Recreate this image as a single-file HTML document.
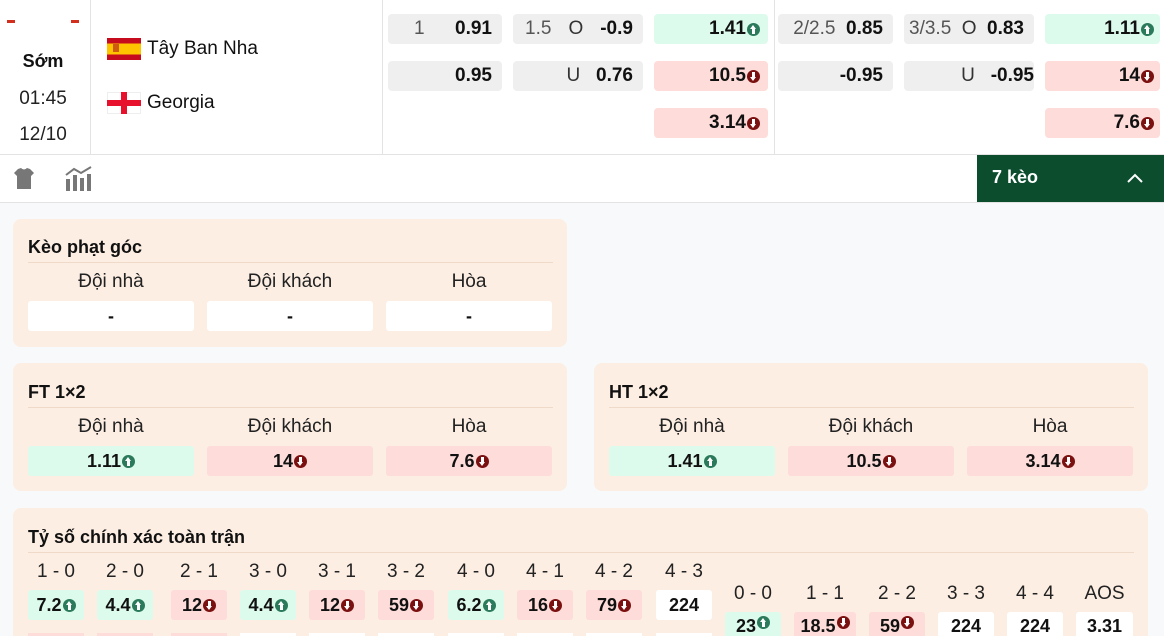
<!DOCTYPE html>
<html style="width:1164px;height:636px;overflow:hidden"><head><meta charset="utf-8">
<style>
*{margin:0;padding:0;box-sizing:border-box}
body{width:1164px;height:636px;overflow:hidden;background:#f8f9fa;font-family:"Liberation Sans",sans-serif;color:#111;position:relative}
.a{position:absolute}
.hdr{left:0;top:0;width:1164px;height:155px;background:#fff;border-bottom:1px solid #e3e3e3}
.tb{left:0;top:155px;width:1164px;height:48px;background:#fff;border-bottom:1px solid #e3e3e3}
.vl{top:0;width:1px;height:154px;background:#e3e3e3}
.c{height:30px;border-radius:4px;background:#efefef;font-size:19px;display:flex;align-items:center;justify-content:flex-end;padding-right:10px;gap:0}
.c b{font-weight:bold}
.g{background:#dcfbec}.r{background:#fddcd9}.w{background:#fff}
.ic{display:inline-block;width:13px;height:13px;border-radius:50%;margin-left:1px;position:relative;vertical-align:middle}
.up{background:#2b7a5c}.dn{background:#7a1010}
.ic:after{content:"";position:absolute;left:5px;top:3px;width:3px;height:6px;background:#fff}
.up:before{content:"";position:absolute;left:3px;top:2px;border-left:3.5px solid transparent;border-right:3.5px solid transparent;border-bottom:4px solid #fff}
.dn:before{content:"";position:absolute;left:3px;top:7px;border-left:3.5px solid transparent;border-right:3.5px solid transparent;border-top:4px solid #fff}
.dn:after{top:2px}
.up:after{top:5px}
.p{background:#fdeee3;border-radius:8px}
.t{font-size:18px;font-weight:bold}
.ln{height:1px;background:#efd9c8}
.lb{font-size:19px;color:#222;text-align:center}
.bx{height:30px;border-radius:3px;font-size:18px;font-weight:bold;display:flex;align-items:center;justify-content:center}
.gr{color:#555;font-weight:normal}
</style></head><body>
<div class="a hdr"></div>
<div class="a vl" style="left:90px"></div>
<div class="a vl" style="left:382px"></div>
<div class="a vl" style="left:774px"></div>
<div class="a" style="left:7px;top:20px;width:8px;height:3px;background:#d32f1e"></div>
<div class="a" style="left:71px;top:20px;width:8px;height:3px;background:#d32f1e"></div>
<div class="a" style="left:0;top:51px;width:86px;text-align:center;font-size:18px;font-weight:bold">Sớm</div>
<div class="a" style="left:0;top:88px;width:86px;text-align:center;font-size:19px;color:#222">01:45</div>
<div class="a" style="left:0;top:124px;width:86px;text-align:center;font-size:19px;color:#222">12/10</div>
<div class="a" style="left:107px;top:38px;width:34px;height:22px;background:linear-gradient(#c60b1e 0 25%,#ffc400 25% 75%,#c60b1e 75%)"></div>
<div class="a" style="left:113px;top:44px;width:6px;height:8px;background:#ad1519;opacity:.6"></div>
<div class="a" style="left:147px;top:38px;font-size:19px">Tây Ban Nha</div>
<div class="a" style="left:107px;top:92px;width:34px;height:22px;background:#fff;border:1px solid #eee"></div>
<div class="a" style="left:121px;top:92px;width:6px;height:22px;background:#e8112d"></div>
<div class="a" style="left:107px;top:100px;width:34px;height:6px;background:#e8112d"></div>
<div class="a" style="left:147px;top:92px;font-size:19px">Georgia</div>

<div class="a c" style="left:388px;top:14px;width:114px;justify-content:space-between;padding-left:26px"><span class="gr">1</span><b>0.91</b></div>
<div class="a c" style="left:513px;top:14px;width:130px;justify-content:space-between;padding-left:12px"><span class="gr">1.5</span><span class="gr" style="color:#333">O</span><b>-0.9</b></div>
<div class="a c g" style="left:654px;top:14px;width:114px;padding-right:8px"><b>1.41</b><i class="ic up"></i></div>
<div class="a c" style="left:778px;top:14px;width:115px;padding-left:8px"><span class="gr">2/2.5</span>&nbsp;<b>&nbsp;0.85</b></div>
<div class="a c" style="left:904px;top:14px;width:130px;justify-content:space-between;padding-left:5px"><span class="gr">3/3.5</span><span class="gr" style="color:#333">O</span><b>0.83</b></div>
<div class="a c g" style="left:1045px;top:14px;width:115px;padding-right:6px"><b>1.11</b><i class="ic up"></i></div>

<div class="a c" style="left:388px;top:61px;width:114px"><b>0.95</b></div>
<div class="a c" style="left:513px;top:61px;width:130px"><span style="color:#333">U</span>&nbsp;&nbsp;&nbsp;<b>0.76</b></div>
<div class="a c r" style="left:654px;top:61px;width:114px;padding-right:8px"><b>10.5</b><i class="ic dn"></i></div>
<div class="a c" style="left:778px;top:61px;width:115px"><b>-0.95</b></div>
<div class="a c" style="left:904px;top:61px;width:130px;padding-right:0"><span style="color:#333">U</span>&nbsp;&nbsp;&nbsp;<b>-0.95</b></div>
<div class="a c r" style="left:1045px;top:61px;width:115px;padding-right:6px"><b>14</b><i class="ic dn"></i></div>
<div class="a c r" style="left:654px;top:108px;width:114px;padding-right:8px"><b>3.14</b><i class="ic dn"></i></div>
<div class="a c r" style="left:1045px;top:108px;width:115px;padding-right:6px"><b>7.6</b><i class="ic dn"></i></div>

<div class="a tb"></div>
<svg class="a" style="left:12px;top:167px" width="24" height="24" viewBox="0 0 24 24"><path d="M6 2 L9 1 Q12 4 15 1 L18 2 L22 6 L19 9 L19 22 L5 22 L5 9 L2 6 Z" fill="#777"/></svg>
<svg class="a" style="left:64px;top:166px" width="30" height="26" viewBox="0 0 30 26"><g fill="#777"><rect x="2" y="13" width="4" height="12"/><rect x="9" y="9" width="4" height="16"/><rect x="16" y="12" width="4" height="13"/><rect x="23" y="8" width="4" height="17"/></g><path d="M2 9 L10 3 L17 7 L27 1" stroke="#777" stroke-width="2" fill="none"/></svg>
<div class="a" style="left:977px;top:155px;width:187px;height:47px;background:#0b4d2d"></div>
<div class="a" style="left:992px;top:167px;font-size:18px;font-weight:bold;color:#fff">7 kèo</div>
<svg class="a" style="left:1126px;top:172px" width="18" height="12" viewBox="0 0 18 12"><path d="M2 10 L9 3 L16 10" stroke="#fff" stroke-width="2" fill="none"/></svg>

<div class="a p" style="left:13px;top:219px;width:554px;height:128px"></div>
<div class="a t" style="left:28px;top:237px">Kèo phạt góc</div>
<div class="a ln" style="left:28px;top:262px;width:525px"></div>
<div class="a lb" style="left:28px;top:271px;width:166px">Đội nhà</div>
<div class="a lb" style="left:207px;top:271px;width:166px">Đội khách</div>
<div class="a lb" style="left:386px;top:271px;width:166px">Hòa</div>
<div class="a bx w" style="left:28px;top:301px;width:166px">-</div>
<div class="a bx w" style="left:207px;top:301px;width:166px">-</div>
<div class="a bx w" style="left:386px;top:301px;width:166px">-</div>

<div class="a p" style="left:13px;top:363px;width:554px;height:128px"></div>
<div class="a t" style="left:28px;top:382px">FT 1×2</div>
<div class="a ln" style="left:28px;top:407px;width:525px"></div>
<div class="a lb" style="left:28px;top:416px;width:166px">Đội nhà</div>
<div class="a lb" style="left:207px;top:416px;width:166px">Đội khách</div>
<div class="a lb" style="left:386px;top:416px;width:166px">Hòa</div>
<div class="a bx g" style="left:28px;top:446px;width:166px">1.11<i class="ic up"></i></div>
<div class="a bx r" style="left:207px;top:446px;width:166px">14<i class="ic dn"></i></div>
<div class="a bx r" style="left:386px;top:446px;width:166px">7.6<i class="ic dn"></i></div>

<div class="a p" style="left:594px;top:363px;width:554px;height:128px"></div>
<div class="a t" style="left:609px;top:382px">HT 1×2</div>
<div class="a ln" style="left:609px;top:407px;width:525px"></div>
<div class="a lb" style="left:609px;top:416px;width:166px">Đội nhà</div>
<div class="a lb" style="left:788px;top:416px;width:166px">Đội khách</div>
<div class="a lb" style="left:967px;top:416px;width:166px">Hòa</div>
<div class="a bx g" style="left:609px;top:446px;width:166px">1.41<i class="ic up"></i></div>
<div class="a bx r" style="left:788px;top:446px;width:166px">10.5<i class="ic dn"></i></div>
<div class="a bx r" style="left:967px;top:446px;width:166px">3.14<i class="ic dn"></i></div>

<div class="a p" style="left:13px;top:508px;width:1135px;height:128px;border-radius:8px 8px 0 0"></div>
<div class="a t" style="left:28px;top:527px">Tỷ số chính xác toàn trận</div>
<div class="a ln" style="left:28px;top:552px;width:1106px"></div>

<div class="a lb" style="left:28px;top:561px;width:56px">1 - 0</div><div class="a bx g" style="left:28px;top:590px;width:56px">7.2<i class="ic up"></i></div>
<div class="a lb" style="left:97px;top:561px;width:56px">2 - 0</div><div class="a bx g" style="left:97px;top:590px;width:56px">4.4<i class="ic up"></i></div>
<div class="a lb" style="left:171px;top:561px;width:56px">2 - 1</div><div class="a bx r" style="left:171px;top:590px;width:56px">12<i class="ic dn"></i></div>
<div class="a lb" style="left:240px;top:561px;width:56px">3 - 0</div><div class="a bx g" style="left:240px;top:590px;width:56px">4.4<i class="ic up"></i></div>
<div class="a lb" style="left:309px;top:561px;width:56px">3 - 1</div><div class="a bx r" style="left:309px;top:590px;width:56px">12<i class="ic dn"></i></div>
<div class="a lb" style="left:378px;top:561px;width:56px">3 - 2</div><div class="a bx r" style="left:378px;top:590px;width:56px">59<i class="ic dn"></i></div>
<div class="a lb" style="left:448px;top:561px;width:56px">4 - 0</div><div class="a bx g" style="left:448px;top:590px;width:56px">6.2<i class="ic up"></i></div>
<div class="a lb" style="left:517px;top:561px;width:56px">4 - 1</div><div class="a bx r" style="left:517px;top:590px;width:56px">16<i class="ic dn"></i></div>
<div class="a lb" style="left:586px;top:561px;width:56px">4 - 2</div><div class="a bx r" style="left:586px;top:590px;width:56px">79<i class="ic dn"></i></div>
<div class="a lb" style="left:656px;top:561px;width:56px">4 - 3</div><div class="a bx w" style="left:656px;top:590px;width:56px">224</div>
<div class="a r" style="left:28px;top:633px;width:56px;height:3px"></div>
<div class="a r" style="left:97px;top:633px;width:56px;height:3px"></div>
<div class="a r" style="left:171px;top:633px;width:56px;height:3px"></div>
<div class="a w" style="left:240px;top:633px;width:56px;height:3px"></div>
<div class="a w" style="left:309px;top:633px;width:56px;height:3px"></div>
<div class="a w" style="left:378px;top:633px;width:56px;height:3px"></div>
<div class="a w" style="left:448px;top:633px;width:56px;height:3px"></div>
<div class="a w" style="left:517px;top:633px;width:56px;height:3px"></div>
<div class="a w" style="left:586px;top:633px;width:56px;height:3px"></div>
<div class="a w" style="left:656px;top:633px;width:56px;height:3px"></div>

<div class="a lb" style="left:725px;top:583px;width:56px">0 - 0</div><div class="a bx g" style="left:725px;top:612px;width:56px;height:24px;border-radius:3px 3px 0 0;align-items:flex-start;padding-top:4px">23<i class="ic up"></i></div>
<div class="a lb" style="left:794px;top:583px;width:62px">1 - 1</div><div class="a bx r" style="left:794px;top:612px;width:62px;height:24px;border-radius:3px 3px 0 0;align-items:flex-start;padding-top:4px">18.5<i class="ic dn"></i></div>
<div class="a lb" style="left:869px;top:583px;width:56px">2 - 2</div><div class="a bx r" style="left:869px;top:612px;width:56px;height:24px;border-radius:3px 3px 0 0;align-items:flex-start;padding-top:4px">59<i class="ic dn"></i></div>
<div class="a lb" style="left:938px;top:583px;width:56px">3 - 3</div><div class="a bx w" style="left:938px;top:612px;width:56px;height:24px;border-radius:3px 3px 0 0;align-items:flex-start;padding-top:4px">224</div>
<div class="a lb" style="left:1007px;top:583px;width:56px">4 - 4</div><div class="a bx w" style="left:1007px;top:612px;width:56px;height:24px;border-radius:3px 3px 0 0;align-items:flex-start;padding-top:4px">224</div>
<div class="a lb" style="left:1076px;top:583px;width:57px">AOS</div><div class="a bx w" style="left:1076px;top:612px;width:57px;height:24px;border-radius:3px 3px 0 0;align-items:flex-start;padding-top:4px">3.31</div>
</body></html>
